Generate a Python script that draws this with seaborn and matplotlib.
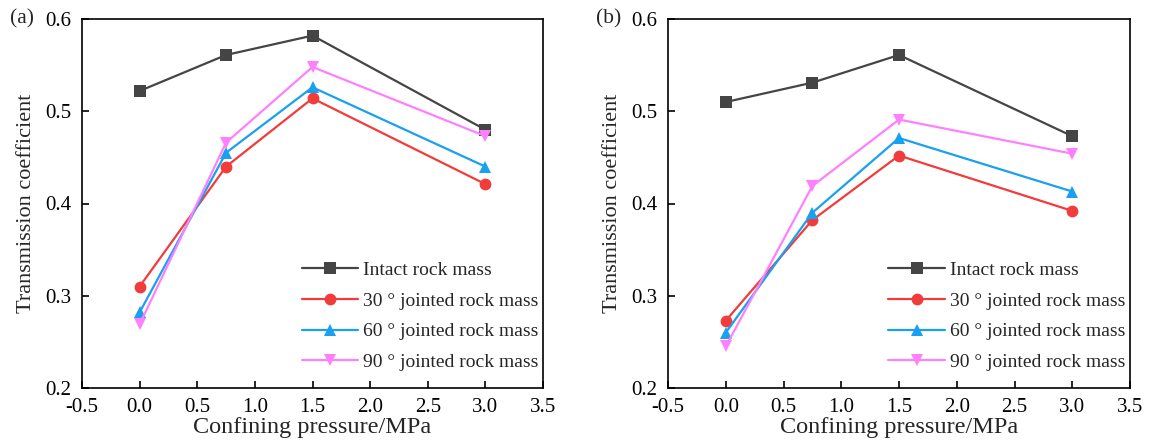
import numpy as np
import pandas as pd
import matplotlib
matplotlib.use("Agg")
import matplotlib.pyplot as plt
import seaborn as sns

pressure = [0.0, 0.75, 1.5, 3.0]
series_names = ["Intact rock mass", "30 ° jointed rock mass",
                "60 ° jointed rock mass", "90 ° jointed rock mass"]

a_intact = [0.522, 0.561, 0.582, 0.480]
a_j30 = [0.310, 0.440, 0.514, 0.421]
a_j60 = [0.282, 0.455, 0.526, 0.440]
a_j90 = [0.269, 0.466, 0.548, 0.473]

b_intact = [0.510, 0.531, 0.561, 0.473]
b_j30 = [0.273, 0.382, 0.452, 0.392]
b_j60 = [0.260, 0.390, 0.471, 0.413]
b_j90 = [0.245, 0.419, 0.491, 0.454]

xticks = [-0.5, 0.0, 0.5, 1.0, 1.5, 2.0, 2.5, 3.0, 3.5]
yticks = [0.2, 0.3, 0.4, 0.5, 0.6]

colors = ["#454545", "#f23b3b", "#1aa0f0", "#ff80ff"]
markers = ["s", "o", "^", "v"]

sns.set_style("ticks")
plt.rcParams["font.family"] = ["Liberation Serif", "DejaVu Serif"]
plt.rcParams["axes.unicode_minus"] = False
plt.rcParams["xtick.direction"] = "in"
plt.rcParams["ytick.direction"] = "in"


def make_df(vals):
    rows = []
    for name, v in zip(series_names, vals):
        for x, y in zip(pressure, v):
            rows.append({"x": x, "y": y, "series": name})
    return pd.DataFrame(rows)


fig = plt.figure(figsize=(11.59, 4.45), dpi=100)
ax_a = fig.add_axes([82 / 1159, 57 / 445, 461 / 1159, 369 / 445])
ax_b = fig.add_axes([668 / 1159, 57 / 445, 462 / 1159, 369 / 445])

panels = [
    (ax_a, [a_intact, a_j30, a_j60, a_j90], "(a)", 10 / 1159),
    (ax_b, [b_intact, b_j30, b_j60, b_j90], "(b)", 596 / 1159),
]

for ax, vals, tag, tx in panels:
    df = make_df(vals)
    sns.lineplot(data=df, x="x", y="y", hue="series", style="series",
                 hue_order=series_names, style_order=series_names,
                 palette=dict(zip(series_names, colors)),
                 markers=dict(zip(series_names, markers)), dashes=False,
                 linewidth=1.6, markersize=8.5, markeredgewidth=0,
                 ax=ax, sort=False)
    ax.set_xlim(-0.5, 3.5)
    ax.set_ylim(0.2, 0.6)
    ax.set_xticks(xticks)
    ax.set_xticklabels([f"{t:.1f}" for t in xticks])
    ax.set_yticks(yticks)
    ax.set_yticklabels([f"{t:.1f}" for t in yticks])
    ax.tick_params(axis="both", labelsize=15, length=5, width=1.2,
                   colors="black")
    ax.tick_params(axis="y", pad=8)
    ax.tick_params(axis="x", pad=7)
    ax.tick_params(top=False, right=False)
    for s in ax.spines.values():
        s.set_visible(True)
        s.set_linewidth(1.2)
        s.set_color("black")
    ax.set_xlabel("Confining pressure/MPa", fontsize=17.5, labelpad=0)
    ax.set_ylabel("Transmission coefficient", fontsize=16, labelpad=6)
    leg = ax.legend(loc="upper left", bbox_to_anchor=(0.477, 0.344),
                    frameon=False, fontsize=14, handlelength=2.9,
                    handletextpad=0.25, labelspacing=0.68, borderpad=0,
                    borderaxespad=0)
    fig.text(tx, 0.958, tag, fontsize=15.5, va="center", ha="left")

fig.savefig("out.png", dpi=100)
